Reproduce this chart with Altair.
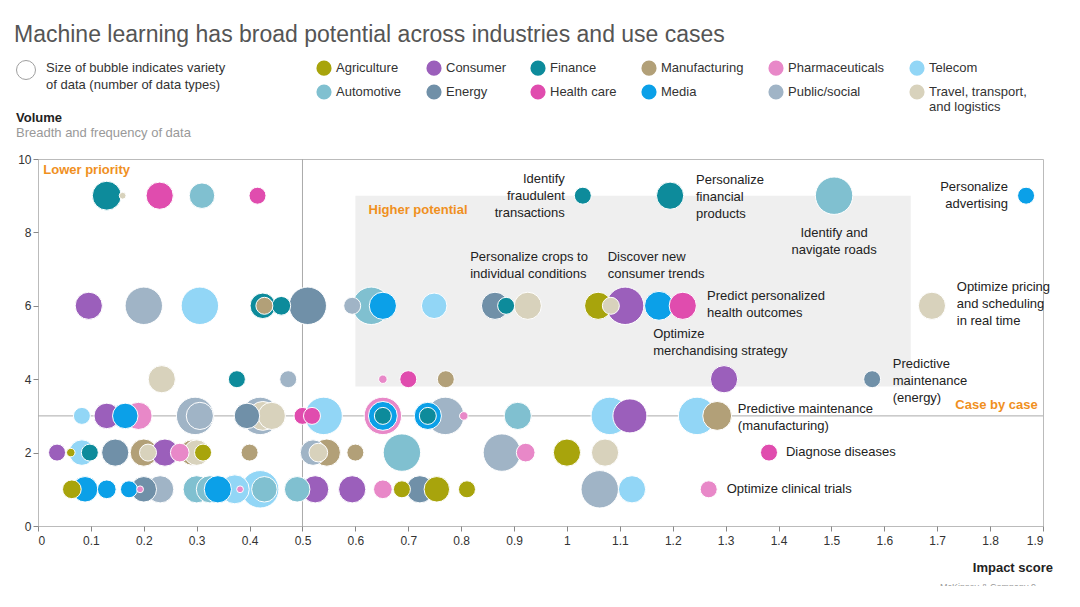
import math
import altair as alt
import pandas as pd

# legend fills column by column, so pair the two rows
industries = ["Agriculture", "Automotive", "Consumer", "Energy", "Finance", "Health care",
              "Manufacturing", "Media", "Pharmaceuticals", "Public/social", "Telecom", "Travel"]
colors = ["#a8a40c", "#80c0d0", "#9b5fbb", "#7090a8", "#0d8b9b", "#e04cae",
          "#b2a078", "#0ba0e8", "#e888c8", "#a0b4c6", "#92d6f6", "#d8d2bc"]

# (industry, impact score, bubble diameter) per volume row
row9 = [("Finance", 0.13, 34), ("Travel", 0.16, 8), ("Health care", 0.23, 32), ("Automotive", 0.31, 30),
        ("Health care", 0.415, 20), ("Finance", 1.03, 20), ("Finance", 1.195, 32), ("Automotive", 1.505, 44),
        ("Media", 1.868, 20)]
row6 = [("Consumer", 0.096, 32), ("Public/social", 0.2, 44), ("Telecom", 0.306, 44), ("Finance", 0.425, 30),
        ("Manufacturing", 0.428, 20), ("Finance", 0.46, 22), ("Energy", 0.51, 44), ("Public/social", 0.594, 20),
        ("Automotive", 0.63, 44), ("Media", 0.652, 32), ("Telecom", 0.749, 30), ("Energy", 0.864, 32),
        ("Finance", 0.885, 20), ("Travel", 0.926, 32), ("Agriculture", 1.059, 32), ("Consumer", 1.11, 44),
        ("Travel", 1.083, 20), ("Media", 1.174, 34), ("Health care", 1.219, 32), ("Travel", 1.69, 32)]
row4 = [("Travel", 0.234, 32), ("Finance", 0.376, 20), ("Public/social", 0.473, 20), ("Pharmaceuticals", 0.652, 10),
        ("Health care", 0.7, 20), ("Manufacturing", 0.771, 20), ("Consumer", 1.297, 32), ("Energy", 1.577, 20)]
row3 = [("Telecom", 0.083, 20), ("Consumer", 0.13, 30), ("Media", 0.165, 30), ("Pharmaceuticals", 0.19, 32),
        ("Public/social", 0.297, 44), ("Public/social", 0.306, 32), ("Energy", 0.395, 30), ("Public/social", 0.42, 44),
        ("Travel", 0.425, 34), ("Travel", 0.442, 32), ("Health care", 0.5, 20), ("Health care", 0.518, 20),
        ("Telecom", 0.54, 44), ("Pharmaceuticals", 0.652, 44), ("Media", 0.652, 34), ("Finance", 0.652, 20),
        ("Public/social", 0.77, 44), ("Media", 0.737, 32), ("Finance", 0.737, 20), ("Pharmaceuticals", 0.805, 10),
        ("Automotive", 0.907, 32), ("Consumer", 1.119, 40), ("Telecom", 1.081, 44), ("Telecom", 1.246, 44),
        ("Manufacturing", 1.284, 34)]
row2 = [("Consumer", 0.036, 20), ("Telecom", 0.083, 30), ("Agriculture", 0.062, 10), ("Finance", 0.098, 20),
        ("Energy", 0.146, 32), ("Manufacturing", 0.2, 32), ("Travel", 0.208, 20), ("Consumer", 0.24, 32),
        ("Pharmaceuticals", 0.268, 22), ("Manufacturing", 0.292, 30), ("Travel", 0.3, 30), ("Agriculture", 0.312, 20),
        ("Manufacturing", 0.4, 20), ("Public/social", 0.52, 30), ("Manufacturing", 0.546, 32), ("Travel", 0.53, 22),
        ("Manufacturing", 0.6, 20), ("Automotive", 0.688, 44), ("Public/social", 0.877, 44),
        ("Pharmaceuticals", 0.922, 22), ("Agriculture", 1.0, 32), ("Travel", 1.072, 32), ("Health care", 1.382, 20)]
row1 = [("Agriculture", 0.064, 22), ("Media", 0.089, 30), ("Media", 0.13, 22), ("Media", 0.172, 20),
        ("Energy", 0.2, 30), ("Pharmaceuticals", 0.193, 8), ("Public/social", 0.231, 32), ("Automotive", 0.3, 32),
        ("Automotive", 0.325, 32), ("Media", 0.34, 32), ("Telecom", 0.372, 34), ("Pharmaceuticals", 0.382, 8),
        ("Telecom", 0.42, 44), ("Automotive", 0.428, 30), ("Automotive", 0.49, 30), ("Consumer", 0.524, 32),
        ("Consumer", 0.594, 32), ("Pharmaceuticals", 0.652, 22), ("Agriculture", 0.688, 20), ("Energy", 0.722, 32),
        ("Agriculture", 0.754, 30), ("Agriculture", 0.811, 20), ("Public/social", 1.062, 44), ("Telecom", 1.123, 32),
        ("Pharmaceuticals", 1.268, 20)]

rows = {9: row9, 6: row6, 4: row4, 3: row3, 2: row2, 1: row1}
bubbles = pd.DataFrame(
    [{"industry": i, "impact": x, "volume": v, "area": math.pi / 4 * d * d * 0.92}
     for v, r in rows.items() for i, x, d in r]
)

notes = [
    ("Identify\nfraudulent\ntransactions", 0.996, 9.45, "right"),
    ("Personalize\nfinancial\nproducts", 1.244, 9.43, "left"),
    ("Identify and\nnavigate roads", 1.505, 7.98, "center"),
    ("Personalize\nadvertising", 1.834, 9.24, "right"),
    ("Personalize crops to\nindividual conditions", 0.817, 7.33, "left"),
    ("Discover new\nconsumer trends", 1.077, 7.33, "left"),
    ("Predict personalized\nhealth outcomes", 1.265, 6.27, "left"),
    ("Optimize\nmerchandising strategy", 1.163, 5.23, "left"),
    ("Optimize pricing\nand scheduling\nin real time", 1.737, 6.51, "left"),
    ("Predictive\nmaintenance\n(energy)", 1.616, 4.41, "left"),
    ("Predictive maintenance\n(manufacturing)", 1.323, 3.19, "left"),
    ("Diagnose diseases", 1.414, 2.02, "left"),
    ("Optimize clinical trials", 1.302, 1.0, "left"),
]
zones = [("Lower priority", 0.01, 9.7, "left"), ("Higher potential", 0.625, 8.6, "left"),
         ("Case by case", 1.89, 3.3, "right")]

font = "Liberation Sans"
X = alt.Scale(domain=[0, 1.9], nice=False)
Y = alt.Scale(domain=[0, 10], nice=False)

base = alt.Chart(bubbles)

shade = alt.Chart(pd.DataFrame({"x": [0.6], "x2": [1.65], "y": [3.8], "y2": [9.0]})).mark_rect(
    color="#efefef").encode(x=alt.X("x:Q", scale=X), x2="x2", y=alt.Y("y:Q", scale=Y), y2="y2")

vrule = alt.Chart(pd.DataFrame({"x": [0.5]})).mark_rule(color="#aaa").encode(x=alt.X("x:Q", scale=X))
hrule = alt.Chart(pd.DataFrame({"y": [3]})).mark_rule(color="#aaa").encode(y=alt.Y("y:Q", scale=Y))

points = base.mark_circle(opacity=1, stroke="white", strokeWidth=1).encode(
    x=alt.X("impact:Q", scale=X, title=None,
            axis=alt.Axis(values=[i / 10 for i in range(20)], labelExpr="round(datum.value*10)/10 + ''",
                          grid=False, labelFont=font, labelFontSize=12, labelColor="#333", labelOverlap=False,
                          tickColor="#888", domain=False, labelPadding=4)),
    y=alt.Y("volume:Q", scale=Y, title=None,
            axis=alt.Axis(values=list(range(11)), grid=False, labelFont=font, labelFontSize=12,
                          labelOverlap=False, labelColor="#333", tickColor="#888", domain=False)),
    color=alt.Color("industry:N", scale=alt.Scale(domain=industries, range=colors), title=None,
                    legend=alt.Legend(orient="none", legendX=278, legendY=-99, columns=6, columnPadding=24,
                                      rowPadding=8, symbolSize=230, symbolStrokeWidth=0, labelFont=font,
                                      labelFontSize=13, labelColor="#333", labelLimit=200,
                                      labelExpr="datum.label == 'Travel' ? ['Travel, transport,', 'and logistics'] : datum.label")),
    size=alt.Size("area:Q", scale=None),
    order=alt.Order("area:Q", sort="descending"),
)


def text_layer(rows_, **kw):
    df = pd.DataFrame(rows_, columns=["t", "x", "y", "a"])
    layers = []
    for a in ("left", "center", "right"):
        sub = df[df.a == a]
        if len(sub):
            layers.append(alt.Chart(sub).mark_text(align=a, baseline="middle", lineBreak="\n", font=font,
                                                   lineHeight=17, **kw).encode(
                x=alt.X("x:Q", scale=X), y=alt.Y("y:Q", scale=Y), text="t:N"))
    return layers


labels = [
    ("Machine learning has broad potential across industries and use cases", -24, -124, 23, "normal", "#555"),
    ("Size of bubble indicates variety", 8, -91, 13, "normal", "#333"),
    ("of data (number of data types)", 8, -74, 13, "normal", "#333"),
    ("Volume", -22, -41, 13, "bold", "#222"),
    ("Breadth and frequency of data", -22, -26, 13, "normal", "#999"),
]
fixed = [alt.Chart(pd.DataFrame({"t": [t]})).mark_text(align="left", baseline="middle", font=font, fontSize=s,
                                                       fontWeight=w, color=c).encode(
    text="t:N", x=alt.value(x), y=alt.value(y)) for t, x, y, s, w, c in labels]
fixed.append(alt.Chart(pd.DataFrame({"t": ["Impact score"]})).mark_text(
    align="right", baseline="middle", font=font, fontSize=13, fontWeight="bold", color="#222").encode(
    text="t:N", x=alt.value(1015), y=alt.value(409)))
fixed.append(alt.Chart(pd.DataFrame({"t": ["McKinsey & Company    9"]})).mark_text(
    align="right", baseline="middle", font=font, fontSize=9, color="#999").encode(
    text="t:N", x=alt.value(998), y=alt.value(428)))
fixed.append(alt.Chart(pd.DataFrame({"t": ["o"]})).mark_point(
    shape="circle", size=360, color="#777", strokeWidth=1, filled=False).encode(
    x=alt.value(-12), y=alt.value(-89)))

chart = alt.layer(
    shade, vrule, hrule, points,
    *text_layer(notes, fontSize=13, color="#222"),
    *text_layer(zones, fontSize=13, fontWeight="bold", color="#f0901e"),
    *fixed,
).properties(
    width=1005, height=367, autosize=alt.AutoSizeParams(type="none"),
    padding={"left": 30, "top": 151, "right": 20, "bottom": 60},
).configure_view(stroke="#bbb", strokeWidth=1)

chart.save("out.html", embed_options={"renderer": "svg", "actions": False})
